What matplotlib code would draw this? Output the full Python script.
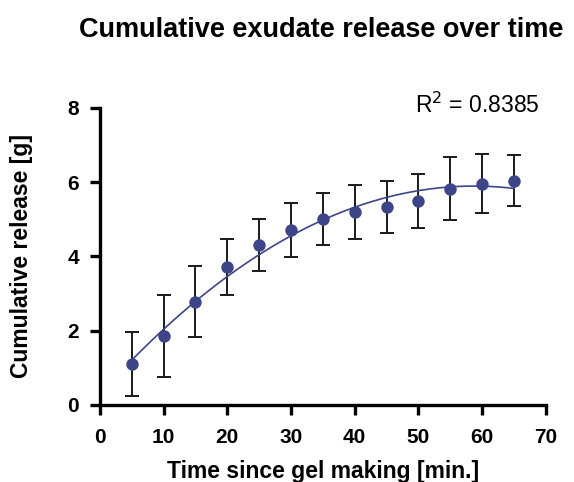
import numpy as np
import matplotlib
matplotlib.use("Agg")
import matplotlib.pyplot as plt

plt.rcParams['font.family'] = ['Liberation Sans', 'DejaVu Sans']

time_min = [5, 10, 15, 20, 25, 30, 35, 40, 45, 50, 55, 60, 65]
release_g = [1.10, 1.86, 2.78, 3.72, 4.31, 4.72, 5.01, 5.20, 5.34, 5.50, 5.82, 5.96, 6.04]
err_g = [0.87, 1.10, 0.95, 0.75, 0.70, 0.73, 0.70, 0.72, 0.70, 0.73, 0.85, 0.80, 0.69]
r2_label = "R$^2$ = 0.8385"

color = "#3d4589"

fig = plt.figure(figsize=(5.74, 4.82), dpi=100)
ax = fig.add_axes([0.174, 0.16, 0.777, 0.616])

coef = np.polyfit(time_min, release_g, 2)
xs = np.linspace(min(time_min), max(time_min), 200)
ax.plot(xs, np.polyval(coef, xs), color=color, lw=1.2, zorder=2)
ax.errorbar(time_min, release_g, yerr=err_g, fmt='none', ecolor='#1a1a1a',
            elinewidth=1.4, capsize=5, capthick=1.4, zorder=1)
ax.scatter(time_min, release_g, s=80, color=color, zorder=3, linewidths=0)

ax.set_xlim(0, 70)
ax.set_ylim(0, 8)
ax.set_xticks(range(0, 71, 10))
ax.set_yticks(range(0, 9, 2))
for s in ['top', 'right']:
    ax.spines[s].set_visible(False)
for s in ['left', 'bottom']:
    ax.spines[s].set_linewidth(2.4)
ax.tick_params(axis='both', which='major', direction='out', length=7, width=2.4,
               labelsize=15)
ax.tick_params(axis='x', pad=10)
ax.tick_params(axis='y', pad=8)
for lab in ax.get_xticklabels() + ax.get_yticklabels():
    lab.set_fontweight('bold')

ax.set_xlabel("Time since gel making [min.]", fontsize=16.5, fontweight='bold', labelpad=9)
ax.set_ylabel("Cumulative release [g]", fontsize=16.5, fontweight='bold', labelpad=25)
fig.text(0.56, 0.937, "Cumulative exudate release over time", ha='center', va='center',
         fontsize=19.5, fontweight='bold')
ax.text(0.985, 1.01, r2_label, transform=ax.transAxes, ha='right', va='center', fontsize=16.5)

for sp in ax.spines.values():
    sp.set_clip_on(False)

fig.savefig("out.png", dpi=100)
